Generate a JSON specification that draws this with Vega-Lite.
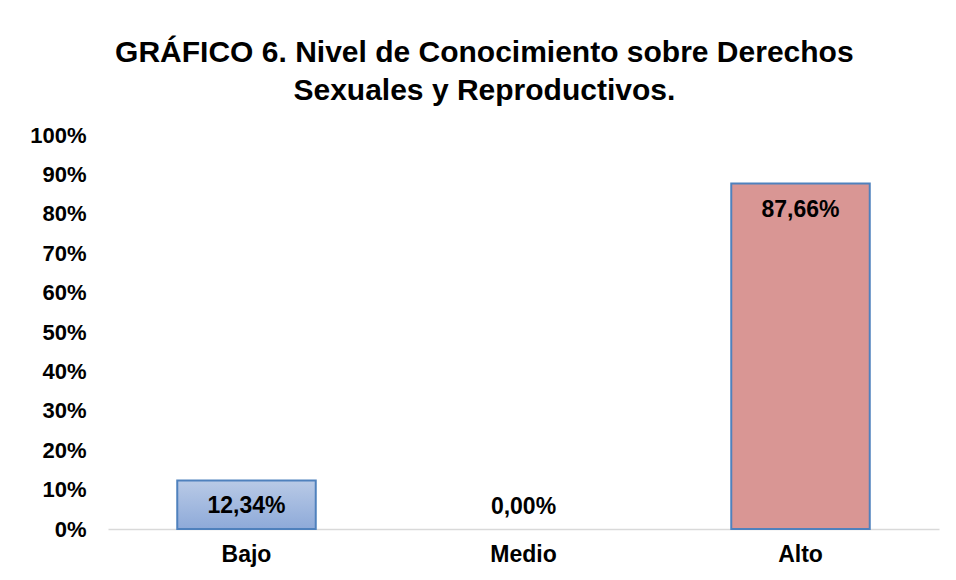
{
  "$schema": "https://vega.github.io/schema/vega-lite/v6.json",
  "autosize": "none",
  "width": 831,
  "height": 394,
  "padding": {"left": 108, "top": 135, "right": 17, "bottom": 51},
  "background": "white",
  "config": {"view": {"stroke": null}},
  "title": {
    "text": ["GRÁFICO 6. Nivel de Conocimiento sobre Derechos", "Sexuales y Reproductivos."],
    "font": "Liberation Sans",
    "fontSize": 30,
    "fontWeight": "bold",
    "color": "#000000",
    "lineHeight": 38,
    "anchor": "middle",
    "frame": "bounds",
    "offset": 18
  },
  "data": {
    "values": [
      {"nivel": "Bajo", "valor": 0.1234, "etiqueta": "12,34%"},
      {"nivel": "Medio", "valor": 0.0, "etiqueta": "0,00%"},
      {"nivel": "Alto", "valor": 0.8766, "etiqueta": "87,66%"}
    ]
  },
  "encoding": {
    "x": {
      "field": "nivel",
      "type": "nominal",
      "sort": ["Bajo", "Medio", "Alto"],
      "scale": {"paddingInner": 0.5, "paddingOuter": 0.25},
      "axis": {
        "title": null,
        "labelAngle": 0,
        "ticks": false,
        "domainColor": "#d9d9d9",
        "domainWidth": 1.5,
        "labelFont": "Liberation Sans",
        "labelFontSize": 23,
        "labelFontWeight": "bold",
        "labelColor": "#000000",
        "labelPadding": 14
      }
    },
    "y": {
      "field": "valor",
      "type": "quantitative",
      "scale": {"domain": [0, 1]},
      "axis": {
        "title": null,
        "values": [0, 0.1, 0.2, 0.3, 0.4, 0.5, 0.6, 0.7, 0.8, 0.9, 1],
        "format": ".0%",
        "grid": false,
        "ticks": false,
        "domain": false,
        "labelFont": "Liberation Sans",
        "labelFontSize": 22,
        "labelFontWeight": "bold",
        "labelColor": "#000000",
        "labelPadding": 22
      }
    }
  },
  "layer": [
    {
      "transform": [{"filter": "datum.nivel == 'Bajo'"}],
      "mark": {
        "type": "bar",
        "stroke": "#4f81bd",
        "strokeWidth": 2,
        "color": {
          "gradient": "linear",
          "x1": 0, "y1": 0, "x2": 0, "y2": 1,
          "stops": [
            {"offset": 0, "color": "#b9cae6"},
            {"offset": 1, "color": "#8eaad9"}
          ]
        }
      }
    },
    {
      "transform": [{"filter": "datum.nivel == 'Alto'"}],
      "mark": {"type": "bar", "stroke": "#4f81bd", "strokeWidth": 2, "color": "#d99694"}
    },
    {
      "transform": [{"filter": "datum.valor > 0"}],
      "mark": {"type": "text", "font": "Liberation Sans", "fontSize": 23, "fontWeight": "bold", "color": "#000000", "baseline": "middle", "dy": 26},
      "encoding": {"text": {"field": "etiqueta"}}
    },
    {
      "transform": [{"filter": "datum.valor == 0"}],
      "mark": {"type": "text", "font": "Liberation Sans", "fontSize": 23, "fontWeight": "bold", "color": "#000000", "baseline": "middle", "dy": -22},
      "encoding": {"text": {"field": "etiqueta"}}
    }
  ]
}
